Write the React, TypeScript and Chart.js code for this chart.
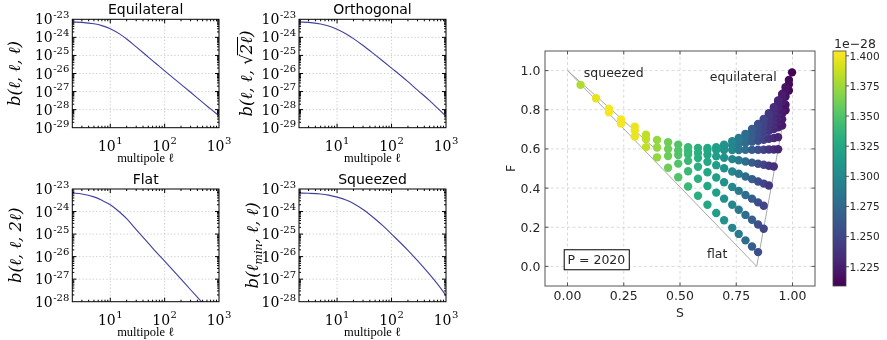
import React, { useEffect, useRef } from "react";
import { Chart, registerables } from "chart.js";

Chart.register(...registerables);

const W = 887;
const H = 340;

// ---------------- left panels: bispectrum vs multipole ----------------
const ell = [2, 3, 5, 7, 10, 15, 20, 30, 50, 70, 100, 200, 300, 500, 700, 1000];
const bEquilateral = [7.08e-24, 6.76e-24, 5.62e-24, 4.47e-24, 3.02e-24, 1.51e-24, 8.13e-25, 2.95e-25, 8.13e-26, 3.47e-26, 1.41e-26, 2.51e-27, 9.12e-28, 2.51e-28, 1.1e-28, 4.57e-29];
const bOrthogonal = [7.08e-24, 6.76e-24, 5.5e-24, 4.27e-24, 2.82e-24, 1.48e-24, 8.51e-25, 3.55e-25, 1.07e-25, 4.79e-26, 2.0e-26, 3.55e-27, 1.2e-27, 3.16e-28, 1.2e-28, 4.17e-29];
const bFlat = [6.61e-24, 6.03e-24, 4.47e-24, 3.16e-24, 2.0e-24, 9.33e-25, 4.79e-25, 1.58e-25, 3.98e-26, 1.58e-26, 6.31e-27, 1.0e-27, 3.39e-28, 8.71e-29, 3.55e-29, 1.41e-29];
const bSqueezed = [6.61e-24, 6.46e-24, 6.03e-24, 5.37e-24, 4.37e-24, 3.16e-24, 2.29e-24, 1.23e-24, 4.68e-25, 2.29e-25, 1.0e-25, 1.91e-26, 6.61e-27, 1.62e-27, 6.03e-28, 1.91e-28];
const xTickExps = [1, 2, 3];

// ---------------- right panel: shape plot ----------------
const colS = [0.058, 0.127, 0.184, 0.238, 0.299, 0.349, 0.398, 0.447, 0.492, 0.536, 0.58, 0.622, 0.661, 0.696, 0.732, 0.761, 0.791, 0.82, 0.847, 0.872, 0.895, 0.917, 0.936, 0.954, 0.969, 0.984, 0.998];
const colValue = [1.38, 1.396, 1.402, 1.402, 1.398, 1.385, 1.372, 1.36, 1.35, 1.34, 1.332, 1.325, 1.318, 1.308, 1.298, 1.288, 1.278, 1.266, 1.256, 1.248, 1.24, 1.234, 1.228, 1.223, 1.218, 1.214, 1.21];
const rowStartCol = [0, 20, 19, 18, 17, 16, 15, 13, 11, 9, 8, 7, 4, 2];
const rowF = [
  [0.927, 0.859, 0.805, 0.75, 0.714, 0.672, 0.646, 0.634, 0.622, 0.609, 0.605, 0.605, 0.609, 0.622, 0.639, 0.656, 0.677, 0.702, 0.728, 0.753, 0.782, 0.813, 0.847, 0.881, 0.915, 0.952, 0.991],
  [0.77, 0.8, 0.832, 0.865, 0.897, 0.93],
  [0.742, 0.762, 0.786, 0.812, 0.84, 0.868, 0.898],
  [0.716, 0.731, 0.746, 0.763, 0.782, 0.803, 0.826],
  [0.69, 0.703, 0.717, 0.731, 0.746, 0.762, 0.779, 0.797],
  [0.666, 0.678, 0.69, 0.702, 0.714, 0.726, 0.738, 0.751],
  [0.645, 0.655, 0.665, 0.674, 0.683, 0.692, 0.701, 0.71, 0.719],
  [0.612, 0.619, 0.625, 0.631, 0.637, 0.642, 0.647, 0.652, 0.656, 0.66],
  [0.594, 0.594, 0.594, 0.594, 0.594, 0.595, 0.595, 0.596, 0.596, 0.597, 0.597, 0.598],
  [0.588, 0.579, 0.57, 0.562, 0.555, 0.548, 0.542, 0.536, 0.53, 0.524, 0.519, 0.514, 0.51],
  [0.592, 0.572, 0.553, 0.534, 0.517, 0.501, 0.485, 0.473, 0.459, 0.446, 0.434, 0.423, 0.413],
  [0.6, 0.569, 0.539, 0.509, 0.481, 0.454, 0.43, 0.406, 0.386, 0.365, 0.346, 0.327, 0.31],
  [0.694, 0.65, 0.607, 0.564, 0.525, 0.486, 0.448, 0.411, 0.377, 0.346, 0.315, 0.289, 0.263, 0.238, 0.214, 0.192],
  [0.787, 0.729, 0.663, 0.609, 0.557, 0.504, 0.455, 0.408, 0.361, 0.315, 0.273, 0.236, 0.197, 0.166, 0.133, 0.102, 0.073],
];
const lowerEdgeS = [0, 0.841];
const lowerEdgeF = [1, 0];
const rightEdgeS = [0.841, 1];
const rightEdgeF = [0, 1];
const upperEdgeS = [0, 0.4];
const upperEdgeF = [1, 0.59];
const sTicks = [0, 0.25, 0.5, 0.75, 1.0];
const fTicks = [0, 0.2, 0.4, 0.6, 0.8, 1.0];
const cbTicks = [1.225, 1.25, 1.275, 1.3, 1.325, 1.35, 1.375, 1.4];
const cbMin = 1.209;
const cbMax = 1.404;

// ---------------- helpers ----------------
const VIRIDIS = ["#440154", "#48186a", "#472d7b", "#424086", "#3b528b", "#33638d", "#2c728e", "#26828e", "#21918c", "#1fa088", "#28ae80", "#3fbc73", "#5ec962", "#84d44b", "#addc30", "#d8e219", "#fde725"];
function hexToRgb(h: string) {
  return [parseInt(h.slice(1, 3), 16), parseInt(h.slice(3, 5), 16), parseInt(h.slice(5, 7), 16)];
}
function viridis(t: number) {
  const c = Math.max(0, Math.min(1, t)) * (VIRIDIS.length - 1);
  const i = Math.min(Math.floor(c), VIRIDIS.length - 2);
  const f = c - i;
  const a = hexToRgb(VIRIDIS[i]);
  const b = hexToRgb(VIRIDIS[i + 1]);
  const m = a.map((v, k) => Math.round(v + (b[k] - v) * f));
  return `rgb(${m[0]},${m[1]},${m[2]})`;
}

const SERIF = '"DejaVu Serif", serif';
const SANS = '"DejaVu Sans", sans-serif';

function line(ctx: any, x1: number, y1: number, x2: number, y2: number) {
  ctx.beginPath();
  ctx.moveTo(x1, y1);
  ctx.lineTo(x2, y2);
  ctx.stroke();
}

function drawPow(ctx: any, x: number, yc: number, exp: string, align: string) {
  ctx.font = `14px ${SERIF}`;
  const wb = ctx.measureText("10").width;
  ctx.font = `10px ${SERIF}`;
  const we = ctx.measureText(exp).width;
  const total = wb + we + 0.5;
  const x0 = align === "center" ? x - total / 2 : x - total;
  ctx.textAlign = "left";
  ctx.textBaseline = "alphabetic";
  ctx.font = `14px ${SERIF}`;
  ctx.fillText("10", x0, yc + 5);
  ctx.font = `10px ${SERIF}`;
  ctx.fillText(exp, x0 + wb + 0.5, yc - 1.2);
}

function drawRotated(ctx: any, cx: number, cy: number, segs: any[]) {
  ctx.save();
  ctx.translate(cx, cy);
  ctx.rotate(-Math.PI / 2);
  ctx.textAlign = "left";
  ctx.textBaseline = "alphabetic";
  let total = 0;
  const ws = segs.map((s) => {
    ctx.font = s.f;
    const w = ctx.measureText(s.t).width;
    total += w;
    return w;
  });
  let x = -total / 2;
  segs.forEach((s, i) => {
    ctx.font = s.f;
    ctx.fillText(s.t, x, 5 + (s.dy || 0));
    if (s.over) {
      ctx.lineWidth = 1;
      line(ctx, x - 1, -9.5, x + ws[i], -9.5);
    }
    x += ws[i];
  });
  ctx.restore();
}

const near = (a: number, b: number) => Math.abs(Math.log10(a) - Math.log10(b)) < 1e-6;

const YF = `italic 16.5px ${SERIF}`;
const YFU = `16.5px ${SERIF}`;
const YFS = `italic 11px ${SERIF}`;

const panels = [
  { key: "eq", values: bEquilateral, yMin: 1e-29, title: "Equilateral", area: [72.3, 19.3, 219, 127.7], ylabX: 15, ylab: [{ t: "b(ℓ, ℓ, ℓ)", f: YF }] },
  { key: "or", values: bOrthogonal, yMin: 1e-29, title: "Orthogonal", area: [299, 19.3, 446, 127.7], ylabX: 247, ylab: [{ t: "b(ℓ, ℓ, ", f: YF }, { t: "√", f: YFU }, { t: "2ℓ", f: YF, over: true }, { t: ")", f: YF }] },
  { key: "fl", values: bFlat, yMin: 1e-28, title: "Flat", area: [72.3, 189, 219, 301.7], ylabX: 16, ylab: [{ t: "b(ℓ, ℓ, 2ℓ)", f: YF }] },
  { key: "sq", values: bSqueezed, yMin: 1e-28, title: "Squeezed", area: [299, 189, 446, 301.7], ylabX: 253, ylab: [{ t: "b(ℓ", f: YF }, { t: "min", f: YFS, dy: 4 }, { t: ", ℓ, ℓ)", f: YF }] },
];

function makeLeftPlugin(p: any) {
  return {
    id: "leftPanel_" + p.key,
    beforeDatasetsDraw(chart: any) {
      const { ctx, chartArea: a } = chart;
      const xs = chart.scales.x;
      const ys = chart.scales.y;
      ctx.save();
      ctx.strokeStyle = "#bdbdbd";
      ctx.lineWidth = 0.8;
      ctx.setLineDash([1.2, 2.2]);
      xTickExps.forEach((e) => {
        const v = Number(`1e${e}`);
        if (near(v, xs.min) || near(v, xs.max)) return;
        const px = xs.getPixelForValue(v);
        line(ctx, px, a.top, px, a.bottom);
      });
      const e0 = Math.round(Math.log10(ys.min));
      const e1 = Math.round(Math.log10(ys.max));
      for (let e = e0 + 1; e < e1; e++) {
        const py = ys.getPixelForValue(Number(`1e${e}`));
        line(ctx, a.left, py, a.right, py);
      }
      ctx.restore();
    },
    afterDatasetsDraw(chart: any) {
      const { ctx, chartArea: a } = chart;
      const xs = chart.scales.x;
      const ys = chart.scales.y;
      ctx.save();
      ctx.setLineDash([]);
      ctx.strokeStyle = "#000";
      ctx.lineWidth = 1;
      ctx.strokeRect(a.left, a.top, a.right - a.left, a.bottom - a.top);
      const lx0 = Math.log10(xs.min), lx1 = Math.log10(xs.max);
      for (let e = 0; e <= 3; e++) {
        for (let m = 1; m <= 9; m++) {
          const v = m * Number(`1e${e}`);
          const lv = Math.log10(v);
          if (lv <= lx0 + 1e-6 || lv >= lx1 - 1e-6) continue;
          const px = xs.getPixelForValue(v);
          const len = m === 1 ? 4 : 2;
          line(ctx, px, a.bottom, px, a.bottom - len);
          line(ctx, px, a.top, px, a.top + len);
        }
      }
      const e0 = Math.round(Math.log10(ys.min));
      const e1 = Math.round(Math.log10(ys.max));
      for (let e = e0; e < e1; e++) {
        for (let m = 1; m <= 9; m++) {
          const v = m * Number(`1e${e}`);
          if (m === 1 && e === e0) continue;
          const py = ys.getPixelForValue(v);
          const len = m === 1 ? 4 : 2;
          line(ctx, a.left, py, a.left + len, py);
          line(ctx, a.right, py, a.right - len, py);
        }
      }
      ctx.fillStyle = "#000";
      xTickExps.forEach((e) => {
        const px = xs.getPixelForValue(Number(`1e${e}`));
        drawPow(ctx, px, a.bottom + 17.8, String(e), "center");
      });
      for (let e = e0; e <= e1; e++) {
        const py = ys.getPixelForValue(Number(`1e${e}`));
        drawPow(ctx, a.left - 3, py, String(e), "right");
      }
      ctx.font = `14px ${SANS}`;
      ctx.textAlign = "center";
      ctx.textBaseline = "alphabetic";
      ctx.fillText(p.title, (a.left + a.right) / 2, a.top - 5);
      ctx.font = `12.5px "Liberation Serif", serif`;
      ctx.textBaseline = "middle";
      ctx.fillText("multipole ℓ", (a.left + a.right) / 2, a.bottom + 31.5);
      drawRotated(ctx, p.ylabX, (a.top + a.bottom) / 2, p.ylab);
      ctx.restore();
    },
  };
}

function makeLeftConfig(p: any) {
  const [l, t, r, b] = p.area;
  return {
    type: "line",
    data: {
      datasets: [
        {
          data: ell.map((x, i) => ({ x, y: p.values[i] })),
          borderColor: "#4040a0",
          borderWidth: 1.1,
          pointRadius: 0,
          fill: false,
          cubicInterpolationMode: "monotone",
        },
      ],
    },
    options: {
      responsive: false,
      animation: false,
      events: [],
      layout: { padding: { left: l, top: t, right: W - r, bottom: H - b } },
      plugins: { legend: { display: false }, tooltip: { enabled: false } },
      scales: {
        x: { type: "logarithmic", min: 2, max: 1000, display: false },
        y: { type: "logarithmic", min: p.yMin, max: 1e-23, display: false },
      },
    },
    plugins: [makeLeftPlugin(p)],
  };
}

const rightPlugin = {
  id: "shapePanel",
  beforeDatasetsDraw(chart: any) {
    const { ctx, chartArea: a } = chart;
    const xs = chart.scales.x;
    const ys = chart.scales.y;
    ctx.save();
    ctx.strokeStyle = "#d0d0d0";
    ctx.lineWidth = 0.8;
    ctx.setLineDash([3, 2.5]);
    sTicks.forEach((v) => {
      const px = xs.getPixelForValue(v);
      line(ctx, px, a.top, px, a.bottom);
    });
    fTicks.forEach((v) => {
      const py = ys.getPixelForValue(v);
      line(ctx, a.left, py, a.right, py);
    });
    ctx.restore();
  },
  afterDatasetsDraw(chart: any) {
    const { ctx, chartArea: a } = chart;
    const xs = chart.scales.x;
    const ys = chart.scales.y;
    ctx.save();
    ctx.setLineDash([]);
    ctx.strokeStyle = "#555";
    ctx.lineWidth = 1;
    ctx.strokeRect(a.left, a.top, a.right - a.left, a.bottom - a.top);
    sTicks.forEach((v) => {
      const px = xs.getPixelForValue(v);
      line(ctx, px, a.bottom, px, a.bottom - 3.5);
      line(ctx, px, a.top, px, a.top + 3.5);
    });
    fTicks.forEach((v) => {
      const py = ys.getPixelForValue(v);
      line(ctx, a.left, py, a.left + 3.5, py);
      line(ctx, a.right, py, a.right - 3.5, py);
    });
    ctx.fillStyle = "#262626";
    ctx.font = `12.5px ${SANS}`;
    ctx.textBaseline = "alphabetic";
    ctx.textAlign = "center";
    sTicks.forEach((v) => {
      ctx.fillText(v.toFixed(2), xs.getPixelForValue(v), a.bottom + 13.5);
    });
    ctx.textAlign = "right";
    fTicks.forEach((v) => {
      ctx.fillText(v.toFixed(1), a.left - 4.5, ys.getPixelForValue(v) + 4.5);
    });
    ctx.textAlign = "center";
    ctx.fillText("S", (a.left + a.right) / 2, a.bottom + 30.7);
    ctx.save();
    ctx.translate(a.left - 30, (a.top + a.bottom) / 2);
    ctx.rotate(-Math.PI / 2);
    ctx.fillText("F", 0, 0);
    ctx.restore();
    ctx.textAlign = "left";
    ctx.fillText("squeezed", xs.getPixelForValue(0.0725), ys.getPixelForValue(0.966));
    ctx.fillText("equilateral", xs.getPixelForValue(0.632), ys.getPixelForValue(0.949));
    ctx.fillText("flat", xs.getPixelForValue(0.62), ys.getPixelForValue(0.045));
    const tx = xs.getPixelForValue(0.0);
    const ty = ys.getPixelForValue(0.012);
    const tw = ctx.measureText("P = 2020").width;
    ctx.fillStyle = "#fff";
    ctx.fillRect(tx - 3.3, ty - 14.3, tw + 7.3, 20);
    ctx.strokeStyle = "#000";
    ctx.strokeRect(tx - 3.3, ty - 14.3, tw + 7.3, 20);
    ctx.fillStyle = "#262626";
    ctx.fillText("P = 2020", tx, ty);
    const cl = 833, cr = 846, ct = a.top, cb = a.bottom;
    const g = ctx.createLinearGradient(0, cb, 0, ct);
    VIRIDIS.forEach((c, i) => g.addColorStop(i / (VIRIDIS.length - 1), c));
    ctx.fillStyle = g;
    ctx.fillRect(cl, ct, cr - cl, cb - ct);
    ctx.strokeStyle = "#444";
    ctx.lineWidth = 0.8;
    ctx.strokeRect(cl, ct, cr - cl, cb - ct);
    ctx.fillStyle = "#262626";
    ctx.font = `10.5px ${SANS}`;
    ctx.textAlign = "left";
    cbTicks.forEach((v) => {
      const py = cb - ((v - cbMin) / (cbMax - cbMin)) * (cb - ct);
      ctx.strokeStyle = "#333";
      line(ctx, cr, py, cr + 3, py);
      ctx.fillText(v.toFixed(3), cr + 3.5, py + 3.8);
    });
    ctx.font = `12.5px ${SANS}`;
    ctx.fillText("1e\u221228", 834, 48);
    ctx.restore();
  },
};

function makeRightConfig() {
  const pts: any[] = [];
  const cols: string[] = [];
  for (let r = rowF.length - 1; r >= 0; r--) {
    const s0 = rowStartCol[r];
    rowF[r].forEach((f, j) => {
      const c = s0 + j;
      pts.push({ x: colS[c], y: f });
      cols.push(viridis((colValue[c] - cbMin) / (cbMax - cbMin)));
    });
  }
  const edge = (S: number[], F: number[]) => ({
    data: S.map((s, i) => ({ x: s, y: F[i] })),
    showLine: true,
    borderColor: "#a8a8a8",
    borderWidth: 1,
    pointRadius: 0,
    order: 2,
  });
  return {
    type: "scatter",
    data: {
      datasets: [
        edge(lowerEdgeS, lowerEdgeF),
        edge(rightEdgeS, rightEdgeF),
        edge(upperEdgeS, upperEdgeF),
        {
          data: pts,
          backgroundColor: cols,
          pointBackgroundColor: cols,
          borderWidth: 0,
          pointBorderWidth: 0,
          pointRadius: 4.2,
          order: 1,
        },
      ],
    },
    options: {
      responsive: false,
      animation: false,
      events: [],
      layout: { padding: { left: 545, top: 51, right: W - 815, bottom: H - 286 } },
      plugins: { legend: { display: false }, tooltip: { enabled: false } },
      scales: {
        x: { type: "linear", min: -0.1, max: 1.1, display: false },
        y: { type: "linear", min: -0.1, max: 1.1, display: false },
      },
    },
    plugins: [rightPlugin],
  };
}

export default function App() {
  const r0 = useRef<HTMLCanvasElement>(null);
  const r1 = useRef<HTMLCanvasElement>(null);
  const r2 = useRef<HTMLCanvasElement>(null);
  const r3 = useRef<HTMLCanvasElement>(null);
  const r4 = useRef<HTMLCanvasElement>(null);
  const refs = [r0, r1, r2, r3, r4];
  useEffect(() => {
    const charts: any[] = [];
    panels.forEach((p, i) => {
      charts.push(new Chart(refs[i].current as any, makeLeftConfig(p) as any));
    });
    charts.push(new Chart(refs[4].current as any, makeRightConfig() as any));
    return () => charts.forEach((c) => c.destroy());
  }, []);
  return (
    <div style={{ position: "absolute", left: 0, top: 0, width: W, height: H, background: "#fff", overflow: "hidden" }}>
      {refs.map((r, i) => (
        <canvas key={i} ref={r} width={W} height={H} style={{ position: "absolute", left: 0, top: 0 }} />
      ))}
    </div>
  );
}
